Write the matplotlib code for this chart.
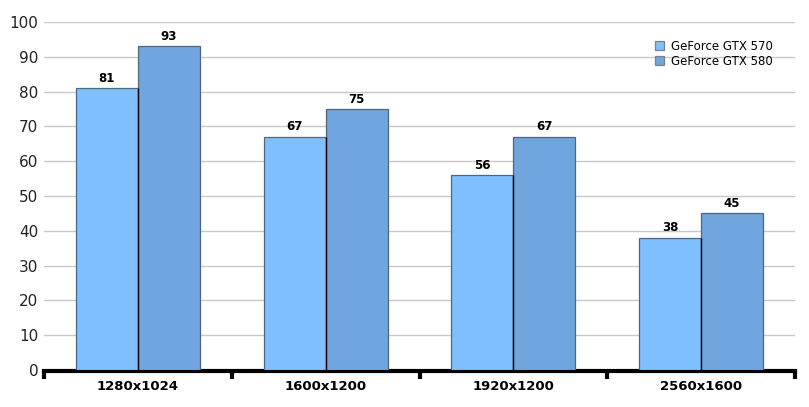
import numpy as np
from matplotlib import pyplot as plt

plt.rcParams['font.family'] = ['DejaVu Sans']

resolutions = ['1280x1024', '1600x1200', '1920x1200', '2560x1600']
gtx570 = [81, 67, 56, 38]
gtx580 = [93, 75, 67, 45]
yticks = [0, 10, 20, 30, 40, 50, 60, 70, 80, 90, 100]

fig = plt.figure(figsize=(8.09, 4.07), dpi=100)
ax = fig.add_axes([44 / 809, 37 / 407, 751 / 809, 348 / 407])

for s in ('top', 'right', 'left'):
    ax.spines[s].set_visible(False)
ax.spines['bottom'].set_linewidth(3)
ax.spines['bottom'].set_position(('data', -0.4))

x = np.arange(len(resolutions))
w = 0.33
b1 = ax.bar(x - w / 2, gtx570, w, color='#80bfff', edgecolor='#4d6680',
            linewidth=0.9, label='GeForce GTX 570', zorder=3)
b2 = ax.bar(x + w / 2, gtx580, w, color='#70a6dd', edgecolor='#4d6680',
            linewidth=0.9, label='GeForce GTX 580', zorder=3)
# black divider between the two bars of a group
ax.vlines(x, 0, np.minimum(gtx570, gtx580), colors='black', linewidth=1, zorder=4)

for bars, vals in ((b1, gtx570), (b2, gtx580)):
    for r, v in zip(bars, vals):
        ax.text(r.get_x() + r.get_width() / 2, v + 1, str(v), ha='center',
                va='bottom', fontsize=8.5, fontweight='bold', zorder=5)

ax.set_xlim(-0.5, len(resolutions) - 0.5)
ax.set_ylim(0, 100)
ax.set_yticks(yticks)
ax.tick_params(axis='y', length=0, labelsize=11, pad=4, labelcolor='#222222')
ax.yaxis.grid(True, color='#c8c8c8', linewidth=1, zorder=0)
ax.set_axisbelow(True)

ax.set_xticks(np.arange(len(resolutions) + 1) - 0.5)
ax.set_xticklabels([])
ax.tick_params(axis='x', which='major', length=6, width=3, direction='out', color='black')
ax.tick_params(axis='x', which='minor', length=0, pad=6)
ax.set_xticks(x, minor=True)
ax.set_xticklabels(resolutions, minor=True, fontsize=9.5, fontweight='bold')

leg = ax.legend(loc='upper right', bbox_to_anchor=(0.985, 0.98), frameon=False,
                fontsize=8.5, handlelength=0.8, handleheight=0.8, handletextpad=0.6,
                labelspacing=0.2)
for p in leg.get_patches():
    p.set_edgecolor('#808080')

plt.savefig('out.png', dpi=100)
